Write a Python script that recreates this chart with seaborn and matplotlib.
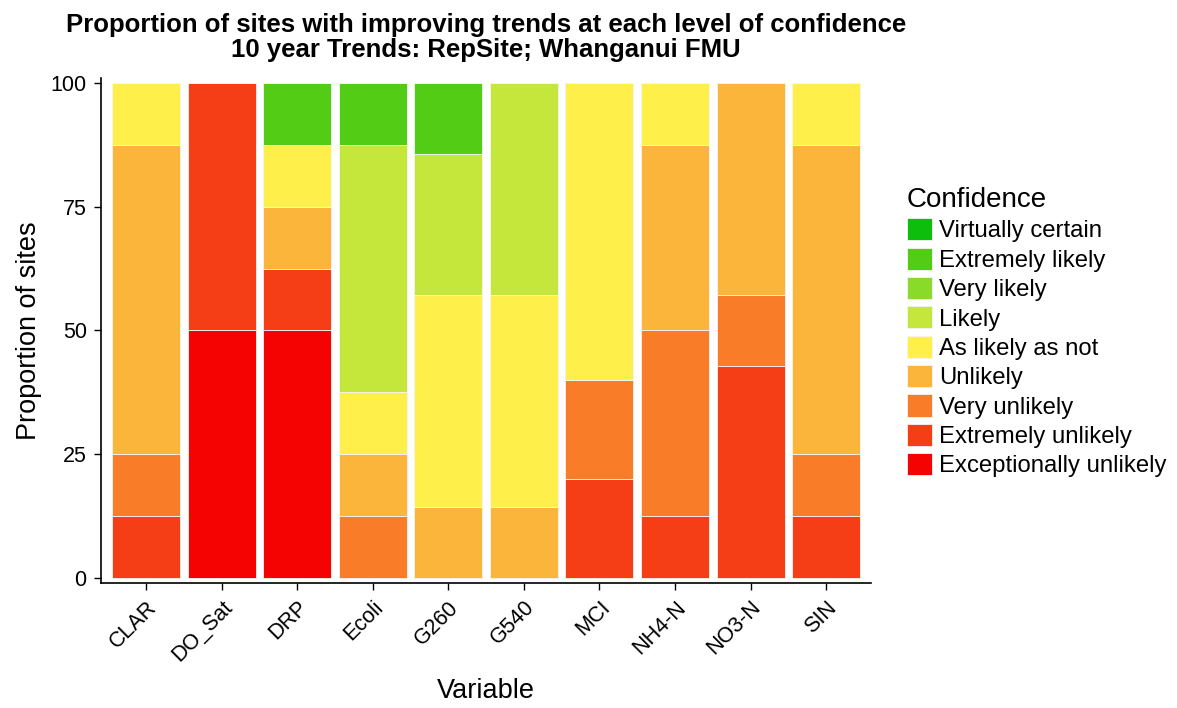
import pandas as pd
import numpy as np
import seaborn as sns
import matplotlib.pyplot as plt

# Données : proportion de sites (%) par variable et niveau de confiance
variables = ["CLAR", "DO_Sat", "DRP", "Ecoli", "G260", "G540", "MCI", "NH4-N", "NO3-N", "SIN"]
levels = ["Virtually certain", "Extremely likely", "Very likely", "Likely", "As likely as not",
          "Unlikely", "Very unlikely", "Extremely unlikely", "Exceptionally unlikely"]
colors = ["#0DBE0D", "#52CC14", "#8ADA2A", "#C5E63B", "#FFEF4A",
          "#FBB53A", "#F97D28", "#F53E15", "#F50202"]

virtually_certain = [0, 0, 0, 0, 0, 0, 0, 0, 0, 0]
extremely_likely = [0, 0, 12.5, 12.5, 14.29, 0, 0, 0, 0, 0]
very_likely = [0, 0, 0, 0, 0, 0, 0, 0, 0, 0]
likely = [0, 0, 0, 50, 28.57, 42.86, 0, 0, 0, 0]
as_likely_as_not = [12.5, 0, 12.5, 12.5, 42.86, 42.86, 60, 12.5, 0, 12.5]
unlikely = [62.5, 0, 12.5, 12.5, 14.29, 14.29, 0, 37.5, 42.86, 62.5]
very_unlikely = [12.5, 0, 0, 12.5, 0, 0, 20, 37.5, 14.29, 12.5]
extremely_unlikely = [12.5, 50, 12.5, 0, 0, 0, 20, 12.5, 42.86, 12.5]
exceptionally_unlikely = [0, 50, 50, 0, 0, 0, 0, 0, 0, 0]

series = [virtually_certain, extremely_likely, very_likely, likely, as_likely_as_not,
          unlikely, very_unlikely, extremely_unlikely, exceptionally_unlikely]

rows = []
for lev, vals in zip(levels, series):
    for var, v in zip(variables, vals):
        rows.append({"Variable": var, "Confidence": lev, "pct": v})
df = pd.DataFrame(rows)
df["Variable"] = pd.Categorical(df["Variable"], categories=variables, ordered=True)

plt.rcParams["font.family"] = ["Liberation Sans", "DejaVu Sans"]

fig = plt.figure(figsize=(11.77, 7.08), dpi=100)
ax = fig.add_axes([0.0855, 0.1766, 0.6549, 0.7133])

sns.histplot(data=df, x="Variable", hue="Confidence", weights="pct",
             hue_order=levels, palette=colors, multiple="stack", discrete=True,
             shrink=0.9, alpha=1, edgecolor="#f4f4f4", linewidth=0.6, ax=ax)

ax.set_xlim(-0.6, 9.6)
ax.set_ylim(-1, 101)
ax.set_yticks([0, 25, 50, 75, 100])
ax.set_xticks(range(len(variables)))
ax.set_xticklabels(variables, rotation=45, ha="right", rotation_mode="anchor")
ax.tick_params(labelsize=15.5, length=5, width=1, colors="black", labelcolor="black", pad=5)
for s in ["top", "right"]:
    ax.spines[s].set_visible(False)
for s in ["left", "bottom"]:
    ax.spines[s].set_linewidth(1.2)

ax.set_xlabel("Variable", fontsize=19.5, labelpad=9)
ax.set_ylabel("Proportion of sites", fontsize=19.5, labelpad=6)
ax.set_title("Proportion of sites with improving trends at each level of confidence\n"
             "10 year Trends: RepSite; Whanganui FMU",
             fontsize=18.5, fontweight="bold", linespacing=1.08, pad=15)

sns.move_legend(ax, "upper left", bbox_to_anchor=(1.046, 0.784), frameon=False,
                title="Confidence", fontsize=17.2, title_fontsize=20,
                handleheight=1.05, handlelength=1.05, labelspacing=0.215,
                handletextpad=0.3, borderpad=0, borderaxespad=0)
ax.get_legend()._legend_box.align = "left"

plt.savefig("out.png", dpi=100)
